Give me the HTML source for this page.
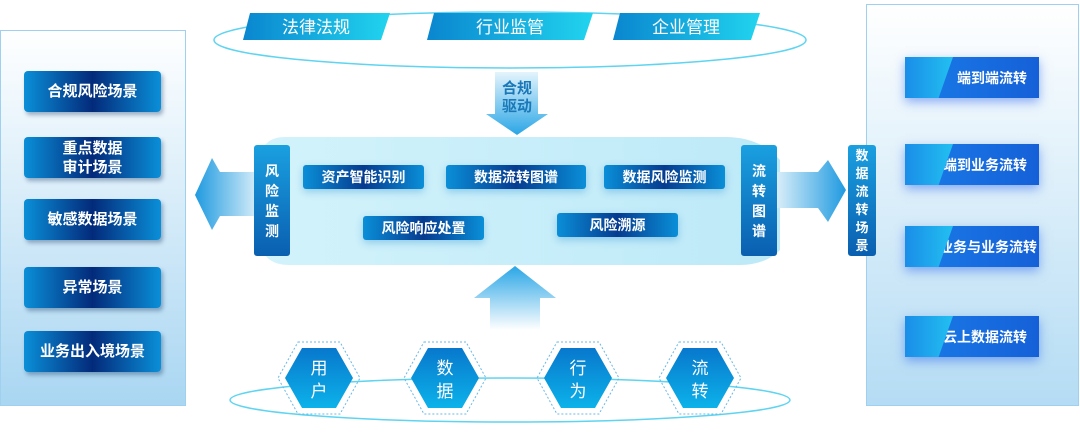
<!DOCTYPE html>
<html><head><meta charset="utf-8"><style>
body{margin:0;width:1080px;height:446px;background:#fff;position:relative;overflow:hidden;font-family:"Liberation Sans","Noto Sans CJK SC",sans-serif;}
.a{position:absolute;}
.lb{position:absolute;left:24px;width:137px;height:41px;border-radius:4px;background:linear-gradient(90deg,#0a8fd8,#032a7a 50%,#0a8fd8);color:#fff;font-size:15px;font-weight:bold;display:flex;align-items:center;justify-content:center;text-align:center;line-height:19px;box-shadow:2px 3px 4px rgba(0,40,90,.35);}
.ib{position:absolute;height:24px;border-radius:3px;background:linear-gradient(90deg,#0a8fd8,#063b8f 50%,#0a8fd8);color:#fff;font-size:14px;font-weight:bold;display:flex;align-items:center;justify-content:center;box-shadow:0 3px 8px rgba(0,120,200,.3);}
.vb{position:absolute;background:linear-gradient(180deg,#1aa0e0,#0a5fb0);color:#fff;font-size:14px;font-weight:bold;border-radius:3px;text-align:center;line-height:20px;display:flex;flex-direction:column;justify-content:center;}
.rb{position:absolute;left:905px;width:134px;height:41px;background:linear-gradient(90deg,#1a7de8,#1560d8);box-shadow:0 4px 10px rgba(40,100,240,.5);color:#fff;font-size:14px;font-weight:bold;display:flex;align-items:center;justify-content:flex-end;padding-right:12px;box-sizing:border-box;}
.rb:before{content:"";position:absolute;left:0;top:0;width:48px;height:100%;background:linear-gradient(90deg,#1a8de8,#22c0f0);clip-path:polygon(0 0,100% 0,70% 100%,0 100%);}
</style></head><body>
<svg class="a" style="left:0;top:0" width="1080" height="446">
<defs>
<linearGradient id="lp" x1="0" y1="0" x2="0" y2="1"><stop offset="0" stop-color="#fff"/><stop offset="1" stop-color="#a9d6f2"/></linearGradient>
<linearGradient id="rp" x1="0" y1="0" x2="0" y2="1"><stop offset="0" stop-color="#fff"/><stop offset="1" stop-color="#b4dcf4"/></linearGradient>
<linearGradient id="cp" x1="0" y1="0" x2="1" y2="0"><stop offset="0" stop-color="#d2f3fb"/><stop offset="1" stop-color="#bde9f8"/></linearGradient>
<linearGradient id="ua" x1="0" y1="0" x2="0" y2="1"><stop offset="0" stop-color="#2aa6e6"/><stop offset="1" stop-color="#2aa6e6" stop-opacity="0"/></linearGradient>
<linearGradient id="da" x1="0" y1="0" x2="0" y2="1"><stop offset="0" stop-color="#e4f4fc"/><stop offset="1" stop-color="#2aa6e6"/></linearGradient>
<linearGradient id="la" x1="1" y1="0" x2="0" y2="0"><stop offset="0" stop-color="#d8eef9"/><stop offset="1" stop-color="#1f9ae0"/></linearGradient>
<linearGradient id="ra" x1="0" y1="0" x2="1" y2="0"><stop offset="0" stop-color="#d8eef9"/><stop offset="1" stop-color="#1f9ae0"/></linearGradient>
<linearGradient id="tb" x1="0" y1="0" x2="1" y2="0"><stop offset="0" stop-color="#0a86cf"/><stop offset="1" stop-color="#21d4ee"/></linearGradient>
<linearGradient id="hx" x1="0" y1="0" x2="0" y2="1"><stop offset="0" stop-color="#0878cc"/><stop offset="1" stop-color="#0cb2ea"/></linearGradient>
</defs>
<rect x="0.5" y="30.5" width="185" height="375" fill="url(#lp)" stroke="#9fd0ef"/>
<rect x="866.5" y="4.5" width="212" height="401" fill="url(#rp)" stroke="#9fd0ef"/>
<ellipse cx="510" cy="40" rx="296" ry="28" fill="none" stroke="#5fd4f0" stroke-width="1.5"/>
<ellipse cx="510" cy="400" rx="280" ry="22" fill="none" stroke="#5fd4f0" stroke-width="1.5"/>
<polygon points="250,13 390,13 381,40 243,40" fill="url(#tb)"/>
<polygon points="434,13 593,13 584,40 427,40" fill="url(#tb)"/>
<polygon points="620,13 760,13 751,40 613,40" fill="url(#tb)"/>
<polygon points="495,72 538,72 538,114 548,114 517,135 486,114 495,114" fill="url(#da)"/>
<path d="M285,137 H725 Q760,137 780,160 L780,250 Q765,265 740,265 H290 Q262,265 260,240 L260,160 Q262,137 285,137 Z" fill="url(#cp)"/>
<polygon points="258,172 220,172 212,158 195,195 212,230 220,216 258,216" fill="url(#la)"/>
<polygon points="777,172 818,172 828,160 846,190 828,222 818,208 777,208" fill="url(#ra)"/>
<polygon points="490,330 540,330 540,298 556,298 515,266 474,298 490,298" fill="url(#ua)"/>
<g fill="url(#hx)" stroke="#6ab8e6" stroke-dasharray="2,2">
<polygon points="298,342 340,342 360,378 340,414 298,414 278,378" fill="none"/>
<polygon points="302,348 336,348 353,378 336,408 302,408 285,378" stroke="none"/>
<polygon points="424,342 466,342 486,378 466,414 424,414 404,378" fill="none"/>
<polygon points="428,348 462,348 479,378 462,408 428,408 411,378" stroke="none"/>
<polygon points="557,342 599,342 619,378 599,414 557,414 537,378" fill="none"/>
<polygon points="561,348 595,348 612,378 595,408 561,408 544,378" stroke="none"/>
<polygon points="679,342 721,342 741,378 721,414 679,414 659,378" fill="none"/>
<polygon points="683,348 717,348 734,378 717,408 683,408 666,378" stroke="none"/>
</g>
<g fill="#fff" font-size="17" font-family="Liberation Sans,Noto Sans CJK SC,sans-serif" text-anchor="middle">
<text x="316" y="33">法律法规</text><text x="510" y="33">行业监管</text><text x="686" y="33">企业管理</text>
<text x="319" y="374">用</text><text x="319" y="397">户</text>
<text x="445" y="374">数</text><text x="445" y="397">据</text>
<text x="578" y="374">行</text><text x="578" y="397">为</text>
<text x="700" y="374">流</text><text x="700" y="397">转</text>
</g>
<g fill="#1a78b8" font-size="15" font-weight="bold" font-family="Liberation Sans,Noto Sans CJK SC,sans-serif" text-anchor="middle">
<text x="517" y="93">合规</text><text x="517" y="111">驱动</text>
</g>
</svg>
<div class="lb" style="top:71px">合规风险场景</div>
<div class="lb" style="top:137px">重点数据<br>审计场景</div>
<div class="lb" style="top:199px">敏感数据场景</div>
<div class="lb" style="top:267px">异常场景</div>
<div class="lb" style="top:331px">业务出入境场景</div>
<div class="vb" style="left:254px;top:145px;width:36px;height:111px">风<br>险<br>监<br>测</div>
<div class="vb" style="left:741px;top:145px;width:36px;height:111px">流<br>转<br>图<br>谱</div>
<div class="vb" style="left:848px;top:145px;width:28px;height:111px;font-size:13px;line-height:18px">数<br>据<br>流<br>转<br>场<br>景</div>
<div class="ib" style="left:303px;top:165px;width:121px">资产智能识别</div>
<div class="ib" style="left:446px;top:165px;width:140px">数据流转图谱</div>
<div class="ib" style="left:604px;top:165px;width:121px">数据风险监测</div>
<div class="ib" style="left:363px;top:216px;width:121px">风险响应处置</div>
<div class="ib" style="left:557px;top:213px;width:121px">风险溯源</div>
<div class="rb" style="top:57px">端到端流转</div>
<div class="rb" style="top:144px">端到业务流转</div>
<div class="rb" style="top:226px;padding-right:2px">业务与业务流转</div>
<div class="rb" style="top:316px">云上数据流转</div>
</body></html>
